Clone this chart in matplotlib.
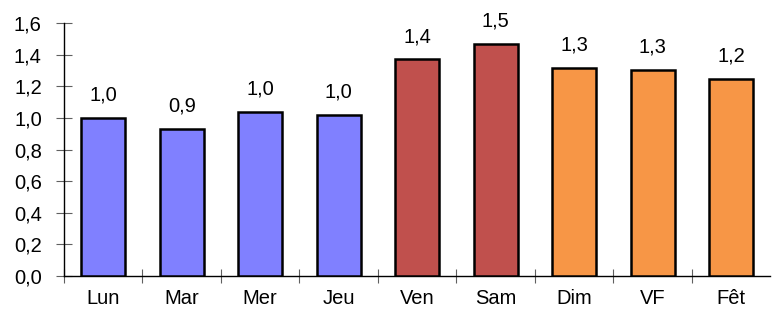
import matplotlib
matplotlib.use("Agg")
import matplotlib.pyplot as plt

categories = ["Lun", "Mar", "Mer", "Jeu", "Ven", "Sam", "Dim", "VF", "Fêt"]
values = [1.00, 0.93, 1.04, 1.02, 1.37, 1.47, 1.315, 1.305, 1.245]
colors = ["#8080FF"] * 4 + ["#C0504D"] * 2 + ["#F79646"] * 3

plt.rcParams['font.family'] = ['Liberation Sans', 'DejaVu Sans']
FS = 14.5

fig = plt.figure(figsize=(7.72, 3.11), dpi=100)
ax = fig.add_axes([64 / 772, 1 - 276 / 311, 1 - 64 / 772 - 0.002, (276 - 23) / 311])

x = list(range(len(categories)))
ax.bar(x, values, width=0.56, color=colors, edgecolor="black", linewidth=1.8, zorder=3)

for xi, v in zip(x, values):
    ax.annotate(f"{v:.1f}".replace(".", ","), (xi, v), xytext=(0, 9.5), textcoords="offset points",
                ha="center", va="bottom", fontsize=FS)

ax.set_xlim(-0.5, len(categories) - 0.5)
ax.set_ylim(0, 1.6)
yt = [i * 0.2 for i in range(9)]
ax.set_yticks(yt)
ax.set_yticklabels([f"{t:.1f}".replace(".", ",") for t in yt], fontsize=FS)
ax.set_xticks(x)
ax.set_xticklabels(categories, fontsize=FS)
ax.tick_params(axis="x", length=0, pad=9)
ax.set_xticks([i + 0.5 for i in range(-1, len(categories) - 1)], minor=True)
ax.tick_params(axis="x", which="minor", direction="inout", length=10, width=0.8, color="#606060")
ax.tick_params(axis="y", direction="inout", length=12, width=0.8, color="#606060", pad=10)

for s in ["top", "right"]:
    ax.spines[s].set_visible(False)
ax.spines["left"].set_linewidth(1.0)
ax.spines["bottom"].set_linewidth(1.0)

fig.savefig("out.png", dpi=100)
